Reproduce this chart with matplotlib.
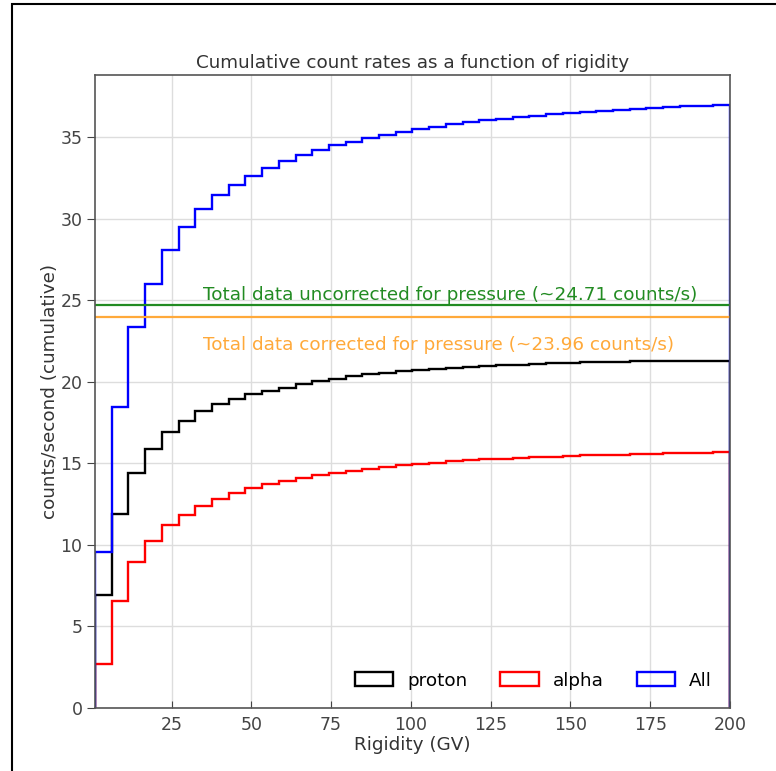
import numpy as np
import matplotlib.pyplot as plt
from matplotlib.patches import Rectangle

# rigidity binning (GV)
edges = np.linspace(1, 200, 39)

# cumulative count rates (counts/s) at the upper edge of each bin
proton_cum = [6.95, 11.91, 14.43, 15.86, 16.92, 17.62, 18.23, 18.66, 18.97, 19.23,
              19.45, 19.65, 19.85, 20.03, 20.19, 20.33, 20.46, 20.56, 20.66, 20.74,
              20.80, 20.86, 20.92, 20.98, 21.02, 21.06, 21.10, 21.13, 21.16, 21.19,
              21.21, 21.23, 21.25, 21.26, 21.27, 21.28, 21.29, 21.30]
alpha_cum = [2.68, 6.56, 8.93, 10.22, 11.20, 11.85, 12.40, 12.81, 13.16, 13.49,
             13.73, 13.92, 14.12, 14.30, 14.43, 14.55, 14.68, 14.78, 14.88, 14.96,
             15.04, 15.12, 15.18, 15.24, 15.30, 15.34, 15.38, 15.42, 15.46, 15.50,
             15.52, 15.54, 15.58, 15.60, 15.62, 15.64, 15.66, 15.68]
all_cum = [9.56, 18.43, 23.34, 26.02, 28.08, 29.49, 30.59, 31.43, 32.10, 32.65,
           33.13, 33.57, 33.90, 34.22, 34.50, 34.72, 34.95, 35.15, 35.32, 35.50,
           35.64, 35.79, 35.91, 36.03, 36.13, 36.23, 36.33, 36.41, 36.50, 36.58,
           36.64, 36.70, 36.76, 36.80, 36.85, 36.89, 36.93, 36.97]

total_uncorr = 24.71
total_corr = 23.96

fig = plt.figure(figsize=(7.76, 7.71), dpi=100)
ax = fig.add_axes([0.1224, 0.0817, 0.8183, 0.821])

# frame around the whole figure
fig.patches.append(Rectangle((12 / 776, -0.05), 1.2, 1.05 - 4 / 771, transform=fig.transFigure,
                             fill=False, edgecolor='black', linewidth=1.5, zorder=-1))

centers = 0.5 * (edges[:-1] + edges[1:])
for cum, col, lab in [(proton_cum, 'black', 'proton'),
                      (alpha_cum, 'red', 'alpha'),
                      (all_cum, 'blue', 'All')]:
    w = np.diff(np.concatenate([[0], cum]))
    ax.hist(centers, bins=edges, weights=w, cumulative=True, histtype='step',
            color=col, linewidth=1.7, label=lab)

ax.axhline(total_uncorr, color='forestgreen', linewidth=1.6)
ax.axhline(total_corr, color='#ffa93a', linewidth=1.6)
ax.text(35, 25.05, 'Total data uncorrected for pressure (~%.2f counts/s)' % total_uncorr,
        color='forestgreen', fontsize=13.2, va='baseline')
ax.text(35, 21.95, 'Total data corrected for pressure (~%.2f counts/s)' % total_corr,
        color='#ffa93a', fontsize=13.2, va='baseline')

ax.set_xlim(edges[0], edges[-1])
ax.set_ylim(0, max(all_cum) * 1.05)
ax.set_xticks([25, 50, 75, 100, 125, 150, 175, 200])
ax.set_yticks([0, 5, 10, 15, 20, 25, 30, 35])
ax.grid(True, color='#dddddd', linewidth=1)
ax.set_axisbelow(True)
ax.tick_params(axis='x', direction='in', length=5, labelsize=12.5, colors='#444444', pad=6)
ax.tick_params(axis='y', direction='out', length=6, labelsize=12.5, colors='#444444', pad=3)
for s in ax.spines.values():
    s.set_color('#555555')
    s.set_linewidth(1.2)

ax.set_title('Cumulative count rates as a function of rigidity', fontsize=13.2, color='#333333', pad=5)
ax.set_xlabel('Rigidity (GV)', fontsize=13.2, color='#333333', labelpad=1)
ax.set_ylabel('counts/second (cumulative)', fontsize=13.2, color='#333333', labelpad=1)

ax.legend(loc='lower right', ncol=3, frameon=False, fontsize=13.2,
          handlelength=2.1, handleheight=0.8, handletextpad=0.75, columnspacing=1.8,
          borderaxespad=0.6)

fig.savefig('out.png', dpi=100)
